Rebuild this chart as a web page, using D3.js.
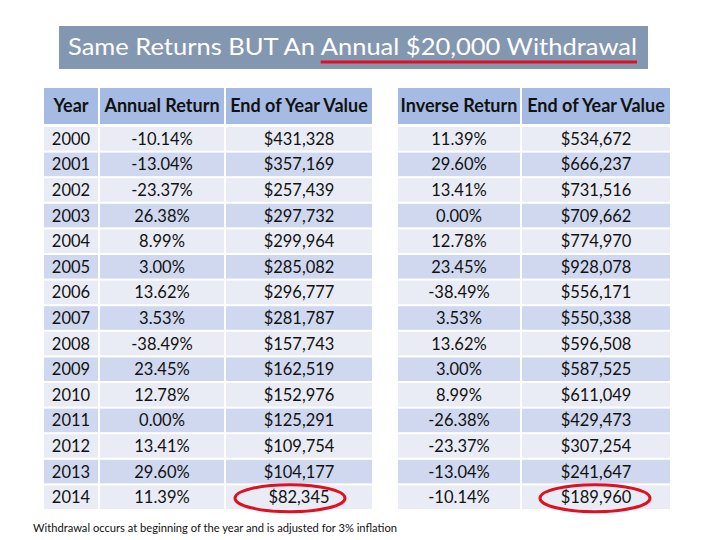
<!DOCTYPE html>
<html>
<head>
<meta charset="utf-8">
<script src="https://cdn.jsdelivr.net/npm/d3@7"></script>
<style>
  body { margin: 0; background: #fff; }
  svg { display: block; }
</style>
</head>
<body>
<div id="table_chart"></div>
<script>
(function() {

    // the numbers
    var years = [2000, 2001, 2002, 2003, 2004, 2005, 2006, 2007, 2008, 2009, 2010, 2011, 2012, 2013, 2014];
    var annualReturn = [-10.14, -13.04, -23.37, 26.38, 8.99, 3.00, 13.62, 3.53, -38.49, 23.45, 12.78, 0.00, 13.41, 29.60, 11.39];
    var endValue = [431328, 357169, 257439, 297732, 299964, 285082, 296777, 281787, 157743, 162519, 152976, 125291, 109754, 104177, 82345];
    var inverseReturn = [11.39, 29.60, 13.41, 0.00, 12.78, 23.45, -38.49, 3.53, 13.62, 3.00, 8.99, -26.38, -23.37, -13.04, -10.14];
    var inverseValue = [534672, 666237, 731516, 709662, 774970, 928078, 556171, 550338, 596508, 587525, 611049, 429473, 307254, 241647, 189960];

    var leftHeaders = ["Year", "Annual Return", "End of Year Value"];
    var rightHeaders = ["Inverse Return", "End of Year Value"];

    var titleStart = "Same Returns BUT An ";
    var titleUnderlined = "Annual $20,000 Withdrawal";
    var footnote = "Withdrawal occurs at beginning of the year and is adjusted for 3% inflation";

    var width = 720, height = 540;
    var font = "Lato, 'Open Sans', sans-serif";

    // plain hyphen for negatives, like the original
    var locale = d3.formatLocale({ decimal: ".", thousands: ",", grouping: [3], currency: ["$", ""], minus: "-" });
    var pct = function(v) { return locale.format(".2f")(v) + "%"; };
    var money = locale.format("$,");

    var svg = d3.select("#table_chart")
        .append("svg")
        .attr("width", width)
        .attr("height", height);

    // one band per year
    var y = d3.scaleBand()
        .domain(years)
        .range([126, 510])
        .paddingInner(0.08)
        .paddingOuter(0.04);
    var headerTop = 88, headerBottom = 124;

    // column edges for each table
    var leftCols = [{ x0: 44, x1: 98 }, { x0: 100, x1: 224 }, { x0: 226, x1: 372 }];
    var rightCols = [{ x0: 398, x1: 520 }, { x0: 522, x1: 670 }];

    var headerColor = "#a6bbe3";
    var rowColor = function(i) { return i % 2 === 0 ? "#e9ecf4" : "#cfd8ee"; };

    function drawTable(cols, headers, columns) {
        var g = svg.append("g");

        // header cells
        g.selectAll("rect.head")
            .data(headers)
            .enter().append("rect")
            .attr("class", "head")
            .attr("x", function(d, i) { return cols[i].x0; })
            .attr("y", headerTop)
            .attr("width", function(d, i) { return cols[i].x1 - cols[i].x0; })
            .attr("height", headerBottom - headerTop)
            .attr("fill", headerColor);

        g.selectAll("text.head")
            .data(headers)
            .enter().append("text")
            .attr("class", "head")
            .attr("x", function(d, i) { return (cols[i].x0 + cols[i].x1) / 2; })
            .attr("y", (headerTop + headerBottom) / 2)
            .attr("dy", "0.36em")
            .attr("text-anchor", "middle")
            .style("font-family", font)
            .style("font-weight", "bold")
            .style("font-size", "18px")
            .style("fill", "#111")
            .text(function(d) { return d; });

        // body cells, one group per column
        columns.forEach(function(col, ci) {
            var cg = g.append("g");
            cg.selectAll("rect")
                .data(col.values)
                .enter().append("rect")
                .attr("x", cols[ci].x0)
                .attr("y", function(d, i) { return y(years[i]); })
                .attr("width", cols[ci].x1 - cols[ci].x0)
                .attr("height", y.bandwidth())
                .attr("fill", function(d, i) { return rowColor(i); });

            cg.selectAll("text")
                .data(col.values)
                .enter().append("text")
                .attr("x", (cols[ci].x0 + cols[ci].x1) / 2)
                .attr("y", function(d, i) { return y(years[i]) + y.bandwidth() / 2; })
                .attr("dy", "0.36em")
                .attr("text-anchor", "middle")
                .style("font-family", font)
                .style("font-size", "16.5px")
                .style("fill", "#111")
                .text(col.fmt);
        });
        return g;
    }

    drawTable(leftCols, leftHeaders, [
        { values: years, fmt: function(d) { return d; } },
        { values: annualReturn, fmt: pct },
        { values: endValue, fmt: money }
    ]);
    drawTable(rightCols, rightHeaders, [
        { values: inverseReturn, fmt: pct },
        { values: inverseValue, fmt: money }
    ]);

    // red circles round the final values
    var last = years[years.length - 1];
    var ellipses = [
        { cx: (leftCols[2].x0 + leftCols[2].x1) / 2 - 9, rx: 55 },
        { cx: (rightCols[1].x0 + rightCols[1].x1) / 2 - 1, rx: 55 }
    ];
    svg.selectAll("ellipse")
        .data(ellipses)
        .enter().append("ellipse")
        .attr("cx", function(d) { return d.cx; })
        .attr("cy", y(last) + y.bandwidth() / 2 + 1)
        .attr("rx", function(d) { return d.rx; })
        .attr("ry", 13.5)
        .attr("fill", "none")
        .attr("stroke", "#e01020")
        .attr("stroke-width", 3);

    // title box
    svg.append("rect")
        .attr("x", 59)
        .attr("y", 26)
        .attr("width", 589)
        .attr("height", 43)
        .attr("fill", "#8497b0");

    var title = svg.append("text")
        .attr("x", 68)
        .attr("y", 55)
        .attr("textLength", 569)
        .attr("lengthAdjust", "spacingAndGlyphs")
        .style("font-family", font)
        .style("font-size", "23px")
        .style("fill", "#fff");
    title.append("tspan").text(titleStart);
    title.append("tspan").text(titleUnderlined);

    // underline starts where the second part of the title starts
    var full = title.node().getSubStringLength(0, (titleStart + titleUnderlined).length);
    var ratio = full > 0 ? 569 / full : 1;
    var startX = 68 + title.node().getSubStringLength(0, titleStart.length) * ratio;

    svg.append("line")
        .attr("x1", startX)
        .attr("x2", 637)
        .attr("y1", 62)
        .attr("y2", 62)
        .attr("stroke", "#e01020")
        .attr("stroke-width", 3);

    // footnote
    svg.append("text")
        .attr("x", 33)
        .attr("y", 532)
        .attr("textLength", 364)
        .attr("lengthAdjust", "spacingAndGlyphs")
        .style("font-family", font)
        .style("font-size", "11px")
        .style("fill", "#111")
        .text(footnote);

})();
</script>
</body>
</html>
